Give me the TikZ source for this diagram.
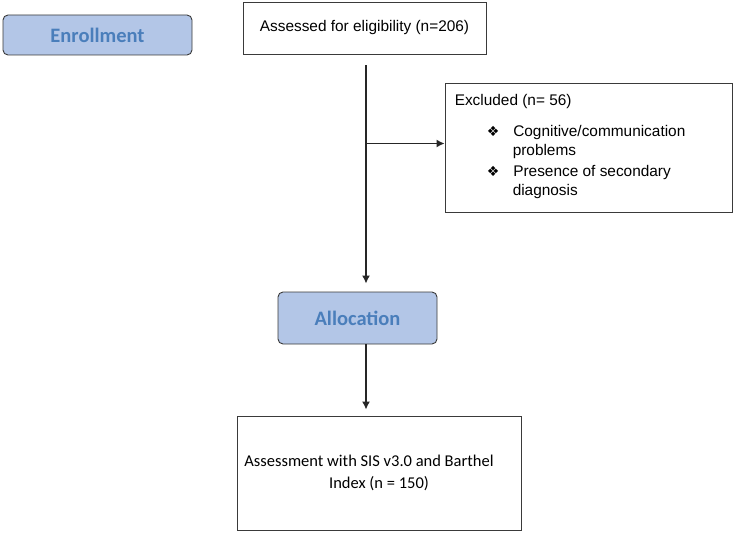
\documentclass[tikz,border=0pt]{standalone}
\usepackage{fontspec}
\setmainfont{Liberation Sans}
\newfontfamily\calibri{Carlito}
\newfontfamily\dejavu{DejaVu Sans}
\usetikzlibrary{arrows.meta,calc}
\definecolor{phasefill}{HTML}{B3C6E7}
\definecolor{phasetext}{HTML}{4A7EBB}
\definecolor{boxline}{HTML}{3A3A3A}
\newcommand{\exclmark}{{\dejavu\fontsize{14}{18}\selectfont\char"2756}}

\begin{document}
\begin{tikzpicture}[x=1pt,y=-1pt,>={Latex[length=8pt,width=8pt]},
      box/.style={draw=boxline,line width=0.9pt,inner sep=0pt},
      phase/.style={box,rounded corners=5pt,fill=phasefill,
        text=phasetext,font=\calibri\fontsize{20.5}{24}\selectfont\bfseries},
      arrow/.style={->,draw=black!85,line width=1.4pt}]
      \useasboundingbox (0,0) rectangle (735,534);

      \node[phase,minimum width=189,minimum height=40] (enroll) at (97.5,35) {Enrollment};
      \node[box,minimum width=243,minimum height=52,
        font=\fontsize{15.4}{18}\selectfont] (assess) at (364.5,28) {Assessed for eligibility (n=206)};

      \node[box,minimum width=287,minimum height=129] (excl) at (588.5,147.5) {};
      \node[anchor=north west,inner sep=0pt,align=left,
        font=\fontsize{15.4}{18.5}\selectfont] (excltext) at ($(excl.north west)+(10,12)$) {%
        Excluded (n= 56)\\[12.5pt]
        \hspace*{32pt}\exclmark\hspace{14pt}Cognitive/communication\\
        \hspace*{58pt}problems\\[3pt]
        \hspace*{32pt}\exclmark\hspace{14pt}Presence of secondary\\
        \hspace*{58pt}diagnosis};

      \node[phase,minimum width=159,minimum height=52] (alloc) at (357.5,318) {Allocation};
      \node[box,minimum width=284,minimum height=114,align=center,
        font=\calibri\fontsize{16.5}{22}\selectfont] (final) at (379,473)
        {Assessment with SIS v3.0 and Barthel\hspace*{20pt}\\Index (n = 150)};

      % spine of the flow
      \coordinate (spine) at (366,0);
      \coordinate (branch) at (366,143.5);
      \draw[arrow,shorten <=11pt,shorten >=8pt] (assess.south -| spine) -- (alloc.north -| spine);
      \draw[arrow] (branch) -- (branch -| excl.west);
      \draw[arrow,shorten >=6pt] (alloc.south -| spine) -- (final.north -| spine);
\end{tikzpicture}
\end{document}
